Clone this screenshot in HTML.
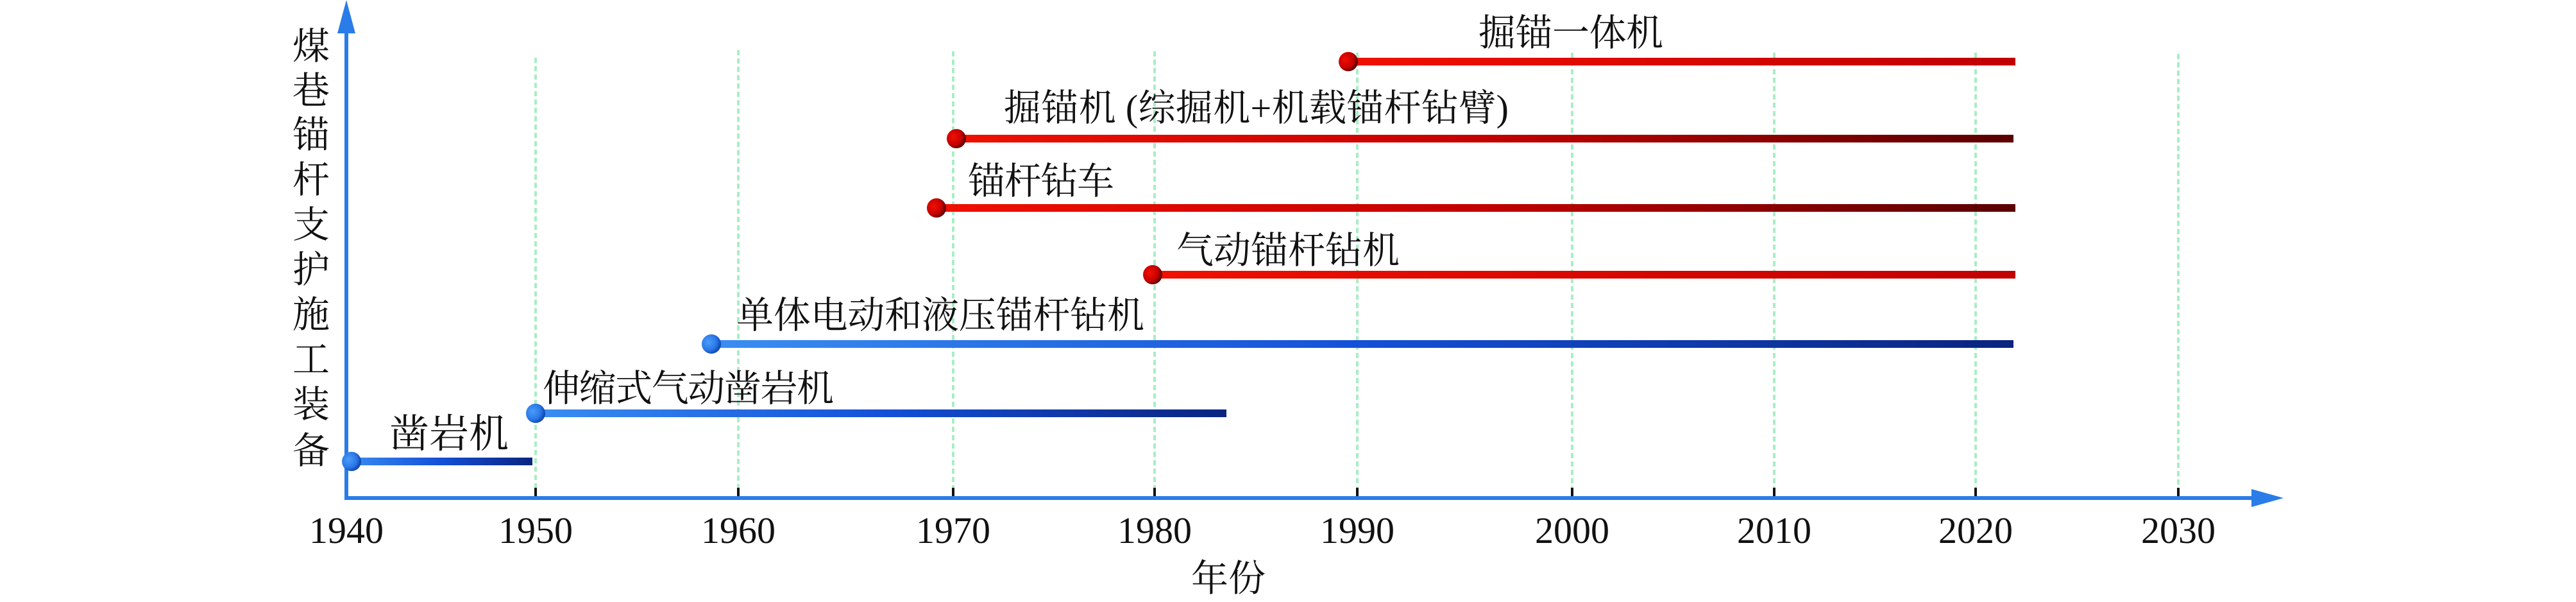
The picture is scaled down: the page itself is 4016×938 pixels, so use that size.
<!DOCTYPE html>
<html><head><meta charset="utf-8"><style>
html,body{margin:0;padding:0;background:#fff;}
svg{display:block;}
text{font-family:"Liberation Serif","Noto Serif CJK SC",serif;fill:#111;}
</style></head><body>
<svg width="4016" height="938" viewBox="0 0 4016 938" xmlns="http://www.w3.org/2000/svg">
<defs>
<linearGradient id="gb" x1="0" x2="1" y1="0" y2="0"><stop offset="0" stop-color="#3a8ef2"/><stop offset="0.5" stop-color="#1450d8"/><stop offset="1" stop-color="#0a2480"/></linearGradient>
<linearGradient id="gr" x1="0" x2="1" y1="0" y2="0"><stop offset="0" stop-color="#f01000"/><stop offset="0.5" stop-color="#c40000"/><stop offset="1" stop-color="#5a0000"/></linearGradient>
<linearGradient id="gs" x1="0" x2="1"><stop offset="0" stop-color="#f01000"/><stop offset="1" stop-color="#c00000"/></linearGradient>
<radialGradient id="dr" cx="0.35" cy="0.4" r="0.7"><stop offset="0" stop-color="#f01000"/><stop offset="0.6" stop-color="#c80000"/><stop offset="1" stop-color="#400000"/></radialGradient>
<radialGradient id="db" cx="0.35" cy="0.4" r="0.7"><stop offset="0" stop-color="#4a9cf8"/><stop offset="0.6" stop-color="#2a78e8"/><stop offset="1" stop-color="#0a3aa0"/></radialGradient>
</defs>
<g stroke="#a8eec4" stroke-width="4" stroke-dasharray="8,5">
<line x1="835" y1="90" x2="835" y2="770"/><line x1="1151" y1="78" x2="1151" y2="770"/><line x1="1486" y1="80" x2="1486" y2="770"/><line x1="1800" y1="80" x2="1800" y2="770"/><line x1="2116" y1="82" x2="2116" y2="770"/><line x1="2451" y1="82" x2="2451" y2="770"/><line x1="2766" y1="82" x2="2766" y2="770"/><line x1="3080" y1="82" x2="3080" y2="770"/><line x1="3396" y1="84" x2="3396" y2="770"/>
</g>
<g stroke="#111" stroke-width="4">
<line x1="835" y1="760" x2="835" y2="776"/><line x1="1151" y1="760" x2="1151" y2="776"/><line x1="1486" y1="760" x2="1486" y2="776"/><line x1="1800" y1="760" x2="1800" y2="776"/><line x1="2116" y1="760" x2="2116" y2="776"/><line x1="2451" y1="760" x2="2451" y2="776"/><line x1="2766" y1="760" x2="2766" y2="776"/><line x1="3080" y1="760" x2="3080" y2="776"/><line x1="3396" y1="760" x2="3396" y2="776"/>
</g>
<line x1="540" y1="40" x2="540" y2="779" stroke="#2a7de8" stroke-width="6"/>
<line x1="537" y1="776" x2="3520" y2="776" stroke="#2a7de8" stroke-width="6"/>
<polygon points="540,0 526,52 554,52" fill="#2a7de8"/>
<polygon points="3560,776 3510,762 3510,790" fill="#2a7de8"/>
<rect x="540" y="713" width="290" height="12" fill="url(#gb)"/>
<rect x="835" y="638" width="1077" height="12" fill="url(#gb)"/>
<rect x="1109" y="530" width="2030" height="12" fill="url(#gb)"/>
<rect x="1797" y="422" width="1345" height="12" fill="url(#gs)"/>
<rect x="1460" y="318" width="1682" height="12" fill="url(#gr)"/>
<rect x="1491" y="210" width="1648" height="12" fill="url(#gr)"/>
<rect x="2102" y="90" width="1040" height="12" fill="url(#gs)"/>
<circle cx="548" cy="719" r="15" fill="url(#db)"/>
<circle cx="835" cy="644" r="15" fill="url(#db)"/>
<circle cx="1109" cy="536" r="15" fill="url(#db)"/>
<circle cx="1797" cy="428" r="15" fill="url(#dr)"/>
<circle cx="1460" cy="324" r="15" fill="url(#dr)"/>
<circle cx="1491" cy="216" r="15" fill="url(#dr)"/>
<circle cx="2102" cy="96" r="15" fill="url(#dr)"/>
<g font-size="58">
<text x="607" y="697" font-size="62">凿岩机</text>
<text x="846" y="625" textLength="454">伸缩式气动凿岩机</text>
<text x="1148" y="511" textLength="636">单体电动和液压锚杆钻机</text>
<text x="1834" y="410" textLength="348">气动锚杆钻机</text>
<text x="1509" y="302" textLength="228">锚杆钻车</text>
<text x="1565" y="188" textLength="787">掘锚机 (综掘机+机载锚杆钻臂)</text>
<text x="2305" y="71" textLength="288">掘锚一体机</text>
</g>
<g font-size="58" text-anchor="middle">
<text x="540" y="846">1940</text><text x="835" y="846">1950</text><text x="1151" y="846">1960</text><text x="1486" y="846">1970</text><text x="1800" y="846">1980</text><text x="2116" y="846">1990</text><text x="2451" y="846">2000</text><text x="2766" y="846">2010</text><text x="3080" y="846">2020</text><text x="3396" y="846">2030</text>
<text x="1915" y="921">年份</text>
</g>
<g font-size="58" text-anchor="middle">
<text x="485" y="92">煤</text><text x="485" y="161">巷</text><text x="485" y="230">锚</text><text x="485" y="300">杆</text><text x="485" y="370">支</text><text x="485" y="440">护</text><text x="485" y="510">施</text><text x="485" y="580">工</text><text x="485" y="650">装</text><text x="485" y="722">备</text>
</g>
</svg>
</body></html>
